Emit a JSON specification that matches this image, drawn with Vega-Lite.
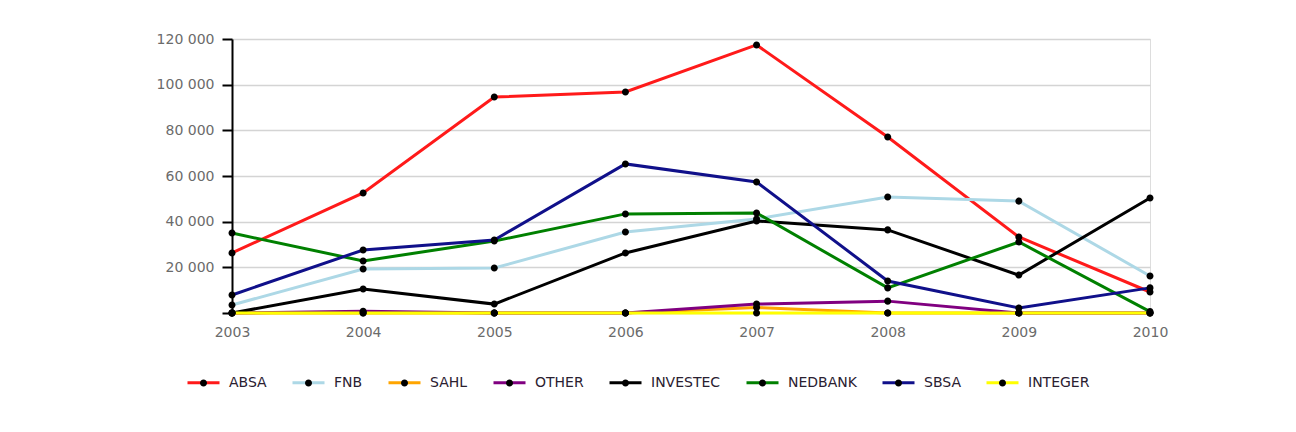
{
  "$schema": "https://vega.github.io/schema/vega-lite/v6.json",
  "autosize": "none",
  "width": 918,
  "height": 274,
  "padding": {"left": 232, "top": 39, "right": 146, "bottom": 119},
  "background": "white",
  "data": {
    "values": [
      {"year": "2003", "bank": "ABSA", "value": 26300},
      {"year": "2004", "bank": "ABSA", "value": 52600},
      {"year": "2005", "bank": "ABSA", "value": 94600},
      {"year": "2006", "bank": "ABSA", "value": 96800},
      {"year": "2007", "bank": "ABSA", "value": 117400},
      {"year": "2008", "bank": "ABSA", "value": 77100},
      {"year": "2009", "bank": "ABSA", "value": 33300},
      {"year": "2010", "bank": "ABSA", "value": 9200},
      {"year": "2003", "bank": "FNB", "value": 3500},
      {"year": "2004", "bank": "FNB", "value": 19300},
      {"year": "2005", "bank": "FNB", "value": 19700},
      {"year": "2006", "bank": "FNB", "value": 35500},
      {"year": "2007", "bank": "FNB", "value": 41200},
      {"year": "2008", "bank": "FNB", "value": 50800},
      {"year": "2009", "bank": "FNB", "value": 49000},
      {"year": "2010", "bank": "FNB", "value": 16200},
      {"year": "2003", "bank": "SAHL", "value": 0},
      {"year": "2004", "bank": "SAHL", "value": 0},
      {"year": "2005", "bank": "SAHL", "value": 0},
      {"year": "2006", "bank": "SAHL", "value": 0},
      {"year": "2007", "bank": "SAHL", "value": 2400},
      {"year": "2008", "bank": "SAHL", "value": 0},
      {"year": "2009", "bank": "SAHL", "value": 0},
      {"year": "2010", "bank": "SAHL", "value": 0},
      {"year": "2003", "bank": "OTHER", "value": 0},
      {"year": "2004", "bank": "OTHER", "value": 800},
      {"year": "2005", "bank": "OTHER", "value": 0},
      {"year": "2006", "bank": "OTHER", "value": 0},
      {"year": "2007", "bank": "OTHER", "value": 3900},
      {"year": "2008", "bank": "OTHER", "value": 5200},
      {"year": "2009", "bank": "OTHER", "value": 0},
      {"year": "2010", "bank": "OTHER", "value": 0},
      {"year": "2003", "bank": "INVESTEC", "value": 0},
      {"year": "2004", "bank": "INVESTEC", "value": 10500},
      {"year": "2005", "bank": "INVESTEC", "value": 3900},
      {"year": "2006", "bank": "INVESTEC", "value": 26300},
      {"year": "2007", "bank": "INVESTEC", "value": 40300},
      {"year": "2008", "bank": "INVESTEC", "value": 36400},
      {"year": "2009", "bank": "INVESTEC", "value": 16600},
      {"year": "2010", "bank": "INVESTEC", "value": 50400},
      {"year": "2003", "bank": "NEDBANK", "value": 35000},
      {"year": "2004", "bank": "NEDBANK", "value": 22800},
      {"year": "2005", "bank": "NEDBANK", "value": 31500},
      {"year": "2006", "bank": "NEDBANK", "value": 43400},
      {"year": "2007", "bank": "NEDBANK", "value": 43800},
      {"year": "2008", "bank": "NEDBANK", "value": 11000},
      {"year": "2009", "bank": "NEDBANK", "value": 31100},
      {"year": "2010", "bank": "NEDBANK", "value": 600},
      {"year": "2003", "bank": "SBSA", "value": 7900},
      {"year": "2004", "bank": "SBSA", "value": 27600},
      {"year": "2005", "bank": "SBSA", "value": 32000},
      {"year": "2006", "bank": "SBSA", "value": 65300},
      {"year": "2007", "bank": "SBSA", "value": 57400},
      {"year": "2008", "bank": "SBSA", "value": 14000},
      {"year": "2009", "bank": "SBSA", "value": 2200},
      {"year": "2010", "bank": "SBSA", "value": 11000},
      {"year": "2003", "bank": "INTEGER", "value": 0},
      {"year": "2004", "bank": "INTEGER", "value": 0},
      {"year": "2005", "bank": "INTEGER", "value": 0},
      {"year": "2006", "bank": "INTEGER", "value": 0},
      {"year": "2007", "bank": "INTEGER", "value": 0},
      {"year": "2008", "bank": "INTEGER", "value": 0},
      {"year": "2009", "bank": "INTEGER", "value": 0},
      {"year": "2010", "bank": "INTEGER", "value": 0}
    ]
  },
  "encoding": {
    "x": {
      "field": "year",
      "type": "ordinal",
      "scale": {"type": "point", "padding": 0},
      "axis": {
        "title": null,
        "labelAngle": 0,
        "ticks": false,
        "domain": true,
        "domainColor": "#000000",
        "domainWidth": 1,
        "labelPadding": 12,
        "labelFont": "DejaVu Sans",
        "labelFontSize": 14,
        "labelColor": "#6b6b6b",
        "grid": false
      }
    },
    "y": {
      "field": "value",
      "type": "quantitative",
      "scale": {"domain": [0, 120000], "nice": false},
      "axis": {
        "title": null,
        "values": [0, 20000, 40000, 60000, 80000, 100000, 120000],
        "labelExpr": "datum.value == 0 ? '' : replace(format(datum.value, ',d'), ',', ' ')",
        "tickSize": 10,
        "tickColor": "#000000",
        "tickWidth": 2,
        "domainColor": "#000000",
        "domainWidth": 2,
        "labelPadding": 8,
        "labelFont": "DejaVu Sans",
        "labelFontSize": 14,
        "labelColor": "#6b6b6b",
        "gridColor": "#d4d4d4",
        "gridWidth": 1.5
      }
    }
  },
  "layer": [
    {
      "mark": {"type": "line", "strokeWidth": 3},
      "encoding": {
        "color": {
          "field": "bank",
          "type": "nominal",
          "scale": {
            "domain": ["ABSA", "FNB", "SAHL", "OTHER", "INVESTEC", "NEDBANK", "SBSA", "INTEGER"],
            "range": ["#ff1a1a", "#add8e6", "#ffa500", "#800080", "#000000", "#008000", "#10108a", "#ffff00"]
          },
          "legend": {
            "title": null,
            "orient": "none",
            "legendX": -46,
            "legendY": 326,
            "direction": "horizontal",
            "columns": 8,
            "columnPadding": 19,
            "symbolType": "stroke",
            "symbolSize": 1024,
            "symbolStrokeWidth": 3,
            "labelOffset": 8,
            "labelFont": "DejaVu Sans",
            "labelFontSize": 14,
            "labelColor": "#2a2030"
          }
        }
      }
    },
    {
      "mark": {"type": "point", "filled": true, "color": "#000000", "opacity": 1, "size": 1024},
      "encoding": {
        "shape": {
          "field": "bank",
          "type": "nominal",
          "sort": ["ABSA", "FNB", "SAHL", "OTHER", "INVESTEC", "NEDBANK", "SBSA", "INTEGER"],
          "scale": {
            "range": ["M-1,0M1,0M0.22,0A0.22,0.22,0,1,1,-0.22,0A0.22,0.22,0,1,1,0.22,0Z"]
          },
          "legend": {
            "title": null,
            "orient": "none",
            "legendX": -46,
            "legendY": 326,
            "direction": "horizontal",
            "columns": 8,
            "columnPadding": 19,
            "symbolSize": 1024,
            "symbolStrokeWidth": 3,
            "symbolStrokeColor": "transparent",
            "symbolFillColor": "#000000",
            "labelOffset": 8,
            "labelFont": "DejaVu Sans",
            "labelFontSize": 14,
            "labelOpacity": 0,
            "zindex": 1
          }
        }
      }
    }
  ]
}
